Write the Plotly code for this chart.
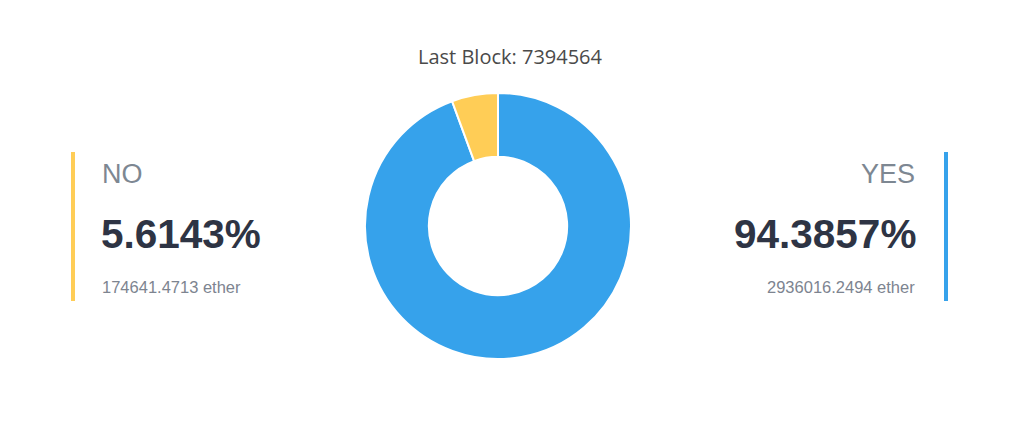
import plotly.graph_objects as go

W, H = 1024, 421
OFF = 8  # default page body margin

labels = ["YES", "NO"]
values = [94.3857, 5.6143]
ether = ["2936016.2494", "174641.4713"]
colors = ["#36a2eb", "#ffcd56"]
title_text = "Last Block: 7394564"

def px(x):
    return (x - OFF) / W

def py(y):
    return 1 - (y - OFF) / H

cx, cy, r = 498, 226, 133

fig = go.Figure(go.Pie(
    labels=labels,
    values=values,
    hole=0.52,
    sort=False,
    direction="clockwise",
    rotation=0,
    textinfo="none",
    hoverinfo="label+percent",
    marker=dict(colors=colors, line=dict(color="#ffffff", width=2)),
    domain=dict(x=[px(cx - r), px(cx + r)], y=[py(cy + r), py(cy - r)]),
    showlegend=False,
))

ann = []
ann.append(dict(text=title_text, x=px(510), y=py(56), xref="paper", yref="paper",
                showarrow=False, xanchor="center", yanchor="middle",
                font=dict(family="Open Sans", size=20, color="#4a4a4a")))

# left panel (NO)
ann.append(dict(text=labels[1], x=px(100), y=py(174), xref="paper", yref="paper",
                showarrow=False, xanchor="left", yanchor="middle",
                font=dict(family="Liberation Sans", size=27, color="#7d8792")))
ann.append(dict(text="<b>%.4f%%</b>" % values[1], x=px(99), y=py(234), xref="paper", yref="paper",
                showarrow=False, xanchor="left", yanchor="middle",
                font=dict(family="Liberation Sans", size=40.5, color="#2e3444")))
ann.append(dict(text=ether[1] + " ether", x=px(100), y=py(287), xref="paper", yref="paper",
                showarrow=False, xanchor="left", yanchor="middle",
                font=dict(family="Liberation Sans", size=16.5, color="#7d8490")))

# right panel (YES)
ann.append(dict(text=labels[0], x=px(917), y=py(174), xref="paper", yref="paper",
                showarrow=False, xanchor="right", yanchor="middle",
                font=dict(family="Liberation Sans", size=27, color="#7d8792")))
ann.append(dict(text="<b>%.4f%%</b>" % values[0], x=px(918), y=py(234), xref="paper", yref="paper",
                showarrow=False, xanchor="right", yanchor="middle",
                font=dict(family="Liberation Sans", size=40.5, color="#2e3444")))
ann.append(dict(text=ether[0] + " ether", x=px(917), y=py(287), xref="paper", yref="paper",
                showarrow=False, xanchor="right", yanchor="middle",
                font=dict(family="Liberation Sans", size=16.5, color="#7d8490")))

shapes = [
    dict(type="rect", xref="paper", yref="paper", x0=px(71), x1=px(75), y0=py(301), y1=py(152),
         fillcolor=colors[1], line=dict(width=0)),
    dict(type="rect", xref="paper", yref="paper", x0=px(944), x1=px(948), y0=py(301), y1=py(152),
         fillcolor=colors[0], line=dict(width=0)),
]

fig.update_layout(
    width=W, height=H,
    margin=dict(l=0, r=0, t=0, b=0),
    paper_bgcolor="#ffffff",
    plot_bgcolor="#ffffff",
    annotations=ann,
    shapes=shapes,
)

fig.write_html("out.html", config={"displayModeBar": False})
